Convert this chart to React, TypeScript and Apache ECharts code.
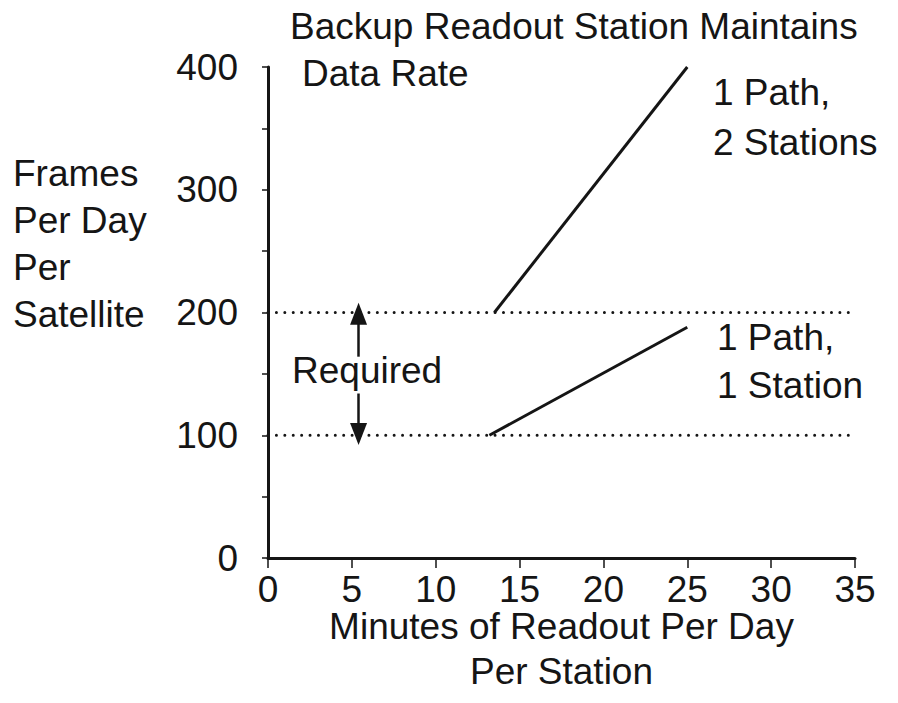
import React, { useEffect, useRef } from "react";
import * as echarts from "echarts";

// ---- data ----
const minutesExtent = [0, 35];
const framesExtent = [0, 400];
const requiredLevels = [100, 200];
const twoStations = [
  [13.5, 200],
  [25, 400],
];
const oneStation = [
  [13.2, 100],
  [25, 188],
];
const arrowX = 5.4;
const upArrow = [164, 199];
const downArrow = [134, 101];

const titleLines = ["Backup Readout Station Maintains", "Data Rate"];
const yNameLines = ["Frames", "Per Day", "Per", "Satellite"];
const xNameLines = ["Minutes of Readout Per Day", "Per Station"];
const twoStationsLabel = ["1 Path,", "2 Stations"];
const oneStationLabel = ["1 Path,", "1 Station"];
const requiredLabel = "Required";

const FONT = "'Liberation Sans', Arial, sans-serif";
const INK = "#151515";
const FS = 37;

export default function App() {
  const ref = useRef<HTMLDivElement>(null);

  useEffect(() => {
    if (!ref.current) return;
    const chart = echarts.init(ref.current, undefined, { renderer: "svg" });

    const dotted = (v: number) => ({
      type: "line",
      data: [
        [minutesExtent[0], v],
        [minutesExtent[1], v],
      ],
      symbol: "none",
      lineStyle: { color: INK, width: 3, type: [0.01, 8.4], cap: "round" },
      z: 2,
    });

    const option: any = {
      animation: false,
      backgroundColor: "#ffffff",
      grid: {
        left: 268,
        right: 43,
        top: 67,
        bottom: 145,
        containLabel: false,
        outerBoundsMode: "none",
      },
      xAxis: {
        type: "value",
        min: minutesExtent[0],
        max: minutesExtent[1],
        interval: 5,
        axisLine: { show: true, lineStyle: { color: INK, width: 3 } },
        axisTick: { show: true, length: 10, lineStyle: { color: INK, width: 1.5 } },
        splitLine: { show: false },
        axisLabel: { color: INK, fontSize: FS, fontFamily: FONT, margin: 13 },
        name: xNameLines.join("\n"),
        nameLocation: "middle",
        nameGap: 46,
        nameMoveOverlap: false,
        nameTextStyle: { color: INK, fontSize: FS, fontFamily: FONT, lineHeight: 45 },
      },
      yAxis: {
        type: "value",
        min: framesExtent[0],
        max: framesExtent[1],
        interval: 50,
        axisLine: { show: true, lineStyle: { color: INK, width: 3 } },
        axisTick: { show: true, length: 6, lineStyle: { color: INK, width: 1.5 } },
        splitLine: { show: false },
        axisLabel: {
          color: INK,
          fontSize: FS,
          fontFamily: FONT,
          margin: 30,
          formatter: (v: number) => (v % 100 === 0 ? String(v) : ""),
        },
      },
      series: [
        {
          ...dotted(requiredLevels[0]),
          markLine: {
            silent: true,
            symbol: ["none", "triangle"],
            symbolSize: [17, 22],
            label: { show: false },
            lineStyle: { color: INK, width: 2.5, type: "solid" },
            data: [
              [{ coord: [arrowX, upArrow[0]] }, { coord: [arrowX, upArrow[1]] }],
              [{ coord: [arrowX, downArrow[0]] }, { coord: [arrowX, downArrow[1]] }],
            ],
          },
        },
        dotted(requiredLevels[1]),
        {
          type: "line",
          data: twoStations,
          symbol: "none",
          lineStyle: { color: INK, width: 3 },
          z: 3,
        },
        {
          type: "line",
          data: oneStation,
          symbol: "none",
          lineStyle: { color: INK, width: 3 },
          z: 3,
        },
      ],
      graphic: [
        {
          type: "text",
          left: 290,
          top: 8,
          style: { text: titleLines[0], fill: INK, font: `${FS}px ${FONT}` },
        },
        {
          type: "text",
          left: 302,
          top: 55,
          style: { text: titleLines[1], fill: INK, font: `${FS}px ${FONT}` },
        },
        {
          type: "text",
          left: 13,
          top: 150,
          style: {
            text: yNameLines.join("\n"),
            fill: INK,
            font: `${FS}px ${FONT}`,
            lineHeight: 47,
          },
        },
        {
          type: "text",
          left: 713,
          top: 67,
          style: {
            text: twoStationsLabel.join("\n"),
            fill: INK,
            font: `${FS}px ${FONT}`,
            lineHeight: 50,
          },
        },
        {
          type: "text",
          left: 717,
          top: 313,
          style: {
            text: oneStationLabel.join("\n"),
            fill: INK,
            font: `${FS}px ${FONT}`,
            lineHeight: 48,
          },
        },
        {
          type: "text",
          left: 292,
          top: 352,
          style: { text: requiredLabel, fill: INK, font: `${FS}px ${FONT}` },
        },
      ],
    };

    chart.setOption(option);
    return () => chart.dispose();
  }, []);

  return (
    <div
      ref={ref}
      style={{ position: "fixed", left: 0, top: 0, width: 898, height: 703, background: "#fff" }}
    />
  );
}
